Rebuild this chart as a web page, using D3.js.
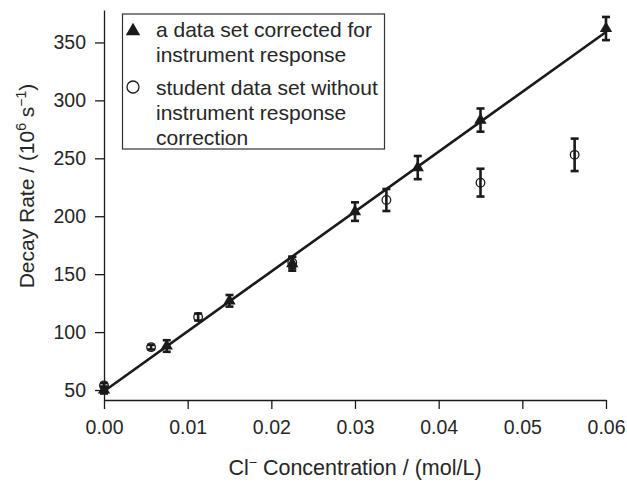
<!DOCTYPE html>
<html>
<head>
<meta charset="utf-8">
<script src="https://cdn.jsdelivr.net/npm/d3@7"></script>
<style>
  body { margin: 0; background: #fff; }
  svg { display: block; font-family: "Liberation Sans", Arial, Helvetica, sans-serif; }
  .tick text { fill: #262626; }
</style>
</head>
<body>
<div id="chart"></div>
<script>
// corrected data set (triangles)
const corrConc = [0, 0.0075, 0.015, 0.0225, 0.03, 0.0375, 0.045, 0.06];
const corrRate = [50, 88, 127, 159, 204, 242, 283, 362];
const corrErr = [3, 5, 5, 6, 8, 10, 10, 10];

// student data set, no correction (circles)
const studConc = [0, 0.005625, 0.01125, 0.0225, 0.03375, 0.045, 0.05625];
const studRate = [54, 87, 113, 160, 214, 229, 253];
const studErr = [2, 2, 3, 5, 9.5, 12, 14];

// linear fit line
const fitConc = [0, 0.06];
const fitRate = [49, 359];

const xTickValues = [0, 0.01, 0.02, 0.03, 0.04, 0.05, 0.06];
const yTickValues = [50, 100, 150, 200, 250, 300, 350];

const legendLabels = [
  ["a data set corrected for", "instrument response"],
  ["student data set without", "instrument response", "correction"],
];

const width = 627;
const height = 483;
const margin = { top: 10, right: 21, bottom: 83, left: 104 };
const ink = "#1a1a1a";

const svg = d3.select("#chart")
  .append("svg")
  .attr("width", width)
  .attr("height", height);

const x = d3.scaleLinear().domain([0, 0.06]).range([margin.left, width - margin.right]);
const y = d3.scaleLinear().domain([41.4, 378]).range([height - margin.bottom, margin.top]);

const xAxis = d3.axisBottom(x).tickValues(xTickValues).tickFormat(d3.format(".2f"))
  .tickSize(9).tickSizeOuter(0).tickPadding(11);
const yAxis = d3.axisLeft(y).tickValues(yTickValues).tickFormat(d3.format("d"))
  .tickSize(9).tickSizeOuter(0).tickPadding(9);

const gx = svg.append("g")
  .attr("transform", `translate(0, ${height - margin.bottom})`)
  .call(xAxis);
const gy = svg.append("g")
  .attr("transform", `translate(${margin.left}, 0)`)
  .call(yAxis);

[gx, gy].forEach((g) => {
  g.select(".domain").attr("stroke", ink).attr("stroke-width", 1.3);
  g.selectAll(".tick line").attr("stroke", ink).attr("stroke-width", 1.3);
  g.selectAll(".tick text").attr("font-size", 19.5).attr("font-family", "Liberation Sans, Arial, sans-serif");
});

// axis titles
const xTitle = svg.append("text")
  .attr("x", (x.range()[0] + x.range()[1]) / 2)
  .attr("y", 475)
  .attr("text-anchor", "middle")
  .attr("font-size", 21.5)
  .attr("fill", "#262626");
xTitle.append("tspan").text("Cl");
xTitle.append("tspan").attr("font-size", 14).attr("dy", -8).text("\u2212");
xTitle.append("tspan").attr("dy", 8).text(" Concentration / (mol/L)");

const yTitle = svg.append("text")
  .attr("transform", "rotate(-90)")
  .attr("x", -186)
  .attr("y", 34)
  .attr("text-anchor", "middle")
  .attr("font-size", 21)
  .attr("fill", "#262626");
yTitle.append("tspan").text("Decay Rate / (10");
yTitle.append("tspan").attr("font-size", 14).attr("dy", -8).text("6");
yTitle.append("tspan").attr("dy", 8).text(" s");
yTitle.append("tspan").attr("font-size", 14).attr("dy", -8).text("\u22121");
yTitle.append("tspan").attr("dy", 8).text(")");

// fit line
const line = d3.line().x((d) => x(d[0])).y((d) => y(d[1]));
svg.append("path")
  .datum(d3.zip(fitConc, fitRate))
  .attr("d", line)
  .attr("fill", "none")
  .attr("stroke", ink)
  .attr("stroke-width", 2.6);

function drawErrorBars(conc, rate, err) {
  const g = svg.append("g").attr("stroke", ink).attr("stroke-width", 2.6).attr("fill", "none");
  const rows = d3.zip(conc, rate, err);
  rows.forEach(([c, r, e]) => {
    const cx = x(c);
    g.append("line").attr("x1", cx).attr("x2", cx).attr("y1", y(r - e)).attr("y2", y(r + e));
    g.append("line").attr("x1", cx - 4).attr("x2", cx + 4).attr("y1", y(r - e)).attr("y2", y(r - e));
    g.append("line").attr("x1", cx - 4).attr("x2", cx + 4).attr("y1", y(r + e)).attr("y2", y(r + e));
  });
}

drawErrorBars(studConc, studRate, studErr);
drawErrorBars(corrConc, corrRate, corrErr);

const triangle = d3.symbol().type(d3.symbolTriangle).size(66);

svg.append("g")
  .selectAll("circle")
  .data(d3.zip(studConc, studRate))
  .join("circle")
  .attr("cx", (d) => x(d[0]))
  .attr("cy", (d) => y(d[1]))
  .attr("r", 4.3)
  .attr("fill", "none")
  .attr("stroke", ink)
  .attr("stroke-width", 1.3);

svg.append("g")
  .selectAll("path")
  .data(d3.zip(corrConc, corrRate))
  .join("path")
  .attr("d", triangle)
  .attr("transform", (d) => `translate(${x(d[0])}, ${y(d[1])})`)
  .attr("fill", ink);

// legend
const legend = svg.append("g");
legend.append("rect")
  .attr("x", 122.5)
  .attr("y", 14)
  .attr("width", 262)
  .attr("height", 135)
  .attr("fill", "#fff")
  .attr("stroke", "#333")
  .attr("stroke-width", 1.2);

legend.append("path")
  .attr("d", d3.symbol().type(d3.symbolTriangle).size(90))
  .attr("transform", "translate(133, 31)")
  .attr("fill", ink);
legend.append("circle")
  .attr("cx", 133)
  .attr("cy", 87)
  .attr("r", 6)
  .attr("fill", "none")
  .attr("stroke", ink)
  .attr("stroke-width", 1.3);

const entryBaselines = [[37, 62], [95, 120, 145]];
legendLabels.forEach((lines, i) => {
  lines.forEach((txt, j) => {
    legend.append("text")
      .attr("x", 156)
      .attr("y", entryBaselines[i][j])
      .attr("font-size", 21)
      .attr("fill", "#262626")
      .text(txt);
  });
});
</script>
</body>
</html>
